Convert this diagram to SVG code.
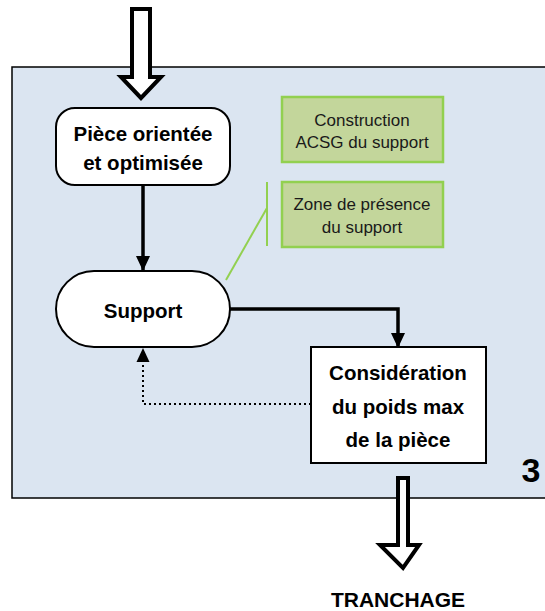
<svg xmlns="http://www.w3.org/2000/svg" width="545" height="611" viewBox="0 0 545 611">
<style>
.b{font-family:"Liberation Sans",Arial,sans-serif;font-weight:bold;fill:#000;text-anchor:middle}
.g{font-family:"Liberation Sans",Arial,sans-serif;font-size:17px;fill:#1a1a1a;text-anchor:middle}
.node{fill:#fff;stroke:#000;stroke-width:2}
.green{fill:#c3d69b;stroke:#92d050;stroke-width:2.5}
.big{fill:#fff;stroke:#000;stroke-width:4;stroke-linejoin:miter}
.con{fill:none;stroke:#000;stroke-width:3.5}
.dot{fill:none;stroke:#000;stroke-width:2;stroke-dasharray:2 3}
</style>
<defs>
<marker id="ah" markerUnits="userSpaceOnUse" markerWidth="16" markerHeight="16" viewBox="0 0 16 16" refX="15" refY="8" orient="auto">
<path d="M0,1 L15,8 L0,15 Z" fill="#000"/>
</marker>
<marker id="ahs" markerUnits="userSpaceOnUse" markerWidth="14" markerHeight="14" viewBox="0 0 14 14" refX="14" refY="7" orient="auto">
<path d="M0,0.5 L14,7 L0,13.5 Z" fill="#000"/>
</marker>
</defs>
<rect id="panel" x="12" y="67" width="545" height="431" fill="#dbe5f1" stroke="#000" stroke-width="1.5"/>
<g id="label3"><text class="b" x="531" y="482" font-size="34">3</text></g>
<g id="connectors">
<line class="con" x1="143" y1="186" x2="143" y2="271" marker-end="url(#ah)"/>
<polyline class="con" points="230,309 398,309 398,348" marker-end="url(#ah)"/>
<polyline class="dot" points="311,404 143,404 143,348" marker-end="url(#ahs)"/>
<line x1="226" y1="280" x2="267" y2="208" stroke="#92d050" stroke-width="2"/>
<line x1="267" y1="182" x2="267" y2="246" stroke="#92d050" stroke-width="2"/>
</g>
<g id="arrow-in"><path class="big" d="M132,9 L150,9 L150,77 L161,77 L141,98 L121,77 L132,77 Z"/></g>
<g id="node-piece">
<rect class="node" x="56" y="108" width="174" height="77" rx="19"/>
<text class="b" x="143" y="141" font-size="20.5">Pièce orientée</text>
<text class="b" x="143" y="170" font-size="20.5">et optimisée</text>
</g>
<g id="node-construction">
<rect class="green" x="282" y="97" width="161" height="65"/>
<text class="g" x="362" y="126">Construction</text>
<text class="g" x="362" y="148">ACSG du support</text>
</g>
<g id="node-zone">
<rect class="green" x="282" y="182" width="161" height="65"/>
<text class="g" x="362" y="210">Zone de présence</text>
<text class="g" x="362" y="233">du support</text>
</g>
<g id="node-support">
<rect class="node" x="56" y="271" width="174" height="76" rx="38"/>
<text class="b" x="143" y="318" font-size="20.5">Support</text>
</g>
<g id="node-consideration">
<rect class="node" x="311" y="347" width="175" height="116" rx="0"/>
<text class="b" x="398" y="380" font-size="20.5">Considération</text>
<text class="b" x="398" y="414" font-size="20.5">du poids max</text>
<text class="b" x="398" y="447" font-size="20.5">de la pièce</text>
</g>
<g id="arrow-out"><path class="big" d="M398,478 L408,478 L408,545 L419,545 L403,568 L380,545 L398,545 Z"/></g>
<g id="node-tranchage"><text class="b" x="398" y="607" font-size="21">TRANCHAGE</text></g>
</svg>
